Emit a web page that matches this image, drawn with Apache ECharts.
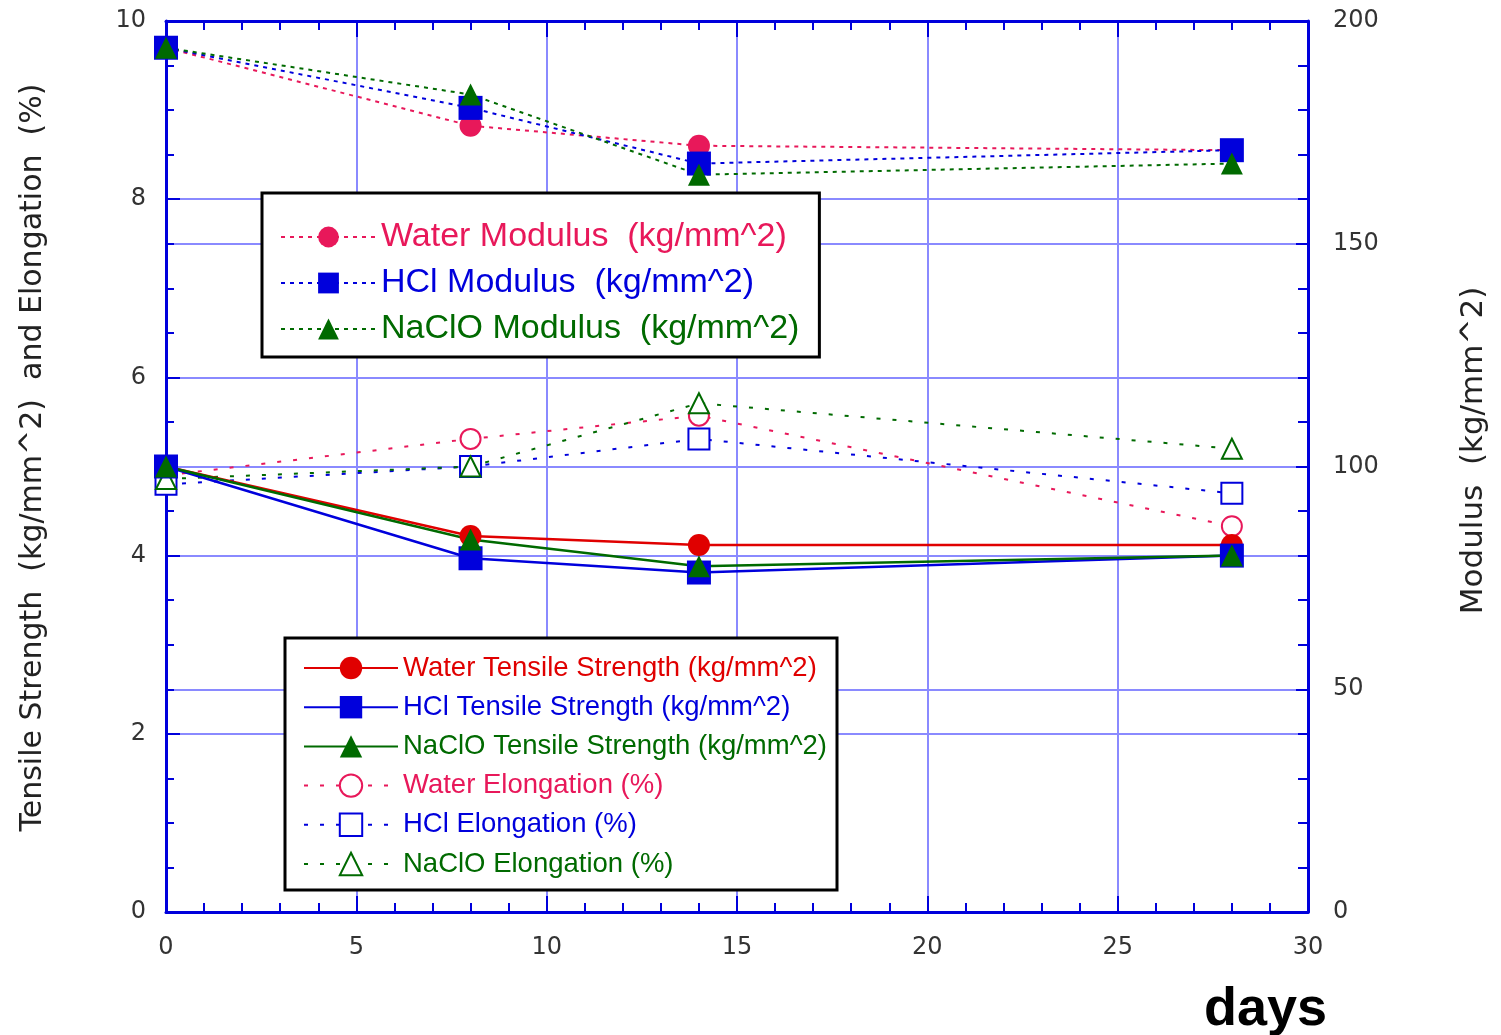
<!DOCTYPE html>
<html><head><meta charset="utf-8">
<script src="https://cdn.jsdelivr.net/npm/echarts@6/dist/echarts.min.js"></script>
<style>html,body{margin:0;padding:0;background:#fff}#c{width:1501px;height:1035px}</style>
</head><body><div id="c"></div><script>
// ---- data ----
const days = [0, 8, 14, 28];
const waterModulus = [194, 176.5, 172, 171];
const hclModulus = [194, 180.5, 168, 171];
const nacloModulus = [194, 183.5, 165.5, 168];
const waterTensile = [5.0, 4.22, 4.12, 4.12];
const hclTensile = [5.0, 3.97, 3.81, 4.0];
const nacloTensile = [5.0, 4.18, 3.88, 4.0];
const waterElong = [4.9, 5.31, 5.57, 4.33];
const hclElong = [4.8, 5.0, 5.31, 4.7];
const nacloElong = [4.86, 5.0, 5.71, 5.2];
const leftTicks = [0, 2, 4, 6, 8, 10];
const rightTicks = [0, 50, 100, 150, 200];
const xTicks = [0, 5, 10, 15, 20, 25, 30];

const names1 = ['Water Modulus  (kg/mm^2)', 'HCl Modulus  (kg/mm^2)', 'NaClO Modulus  (kg/mm^2)'];
const names2 = ['Water Tensile Strength (kg/mm^2)', 'HCl Tensile Strength (kg/mm^2)', 'NaClO Tensile Strength (kg/mm^2)',
  'Water Elongation (%)', 'HCl Elongation (%)', 'NaClO Elongation (%)'];

const C = { waterM: '#e8185a', waterT: '#e00000', hcl: '#0000dc', naclo: '#006a00', grid: '#8a8aff', axis: '#0000dc' };

const pair = arr => days.map((d, i) => [d, arr[i]]);

function ser(name, arr, yIdx, color, symbol, size, ltype, lw) {
  return {
    name, type: 'line', yAxisIndex: yIdx, data: pair(arr),
    symbol, symbolSize: size,
    itemStyle: { color },
    lineStyle: { color, width: lw, type: ltype },
    emphasis: { disabled: true }, animation: false
  };
}

const dashM = [4, 5];
const dashE = [4, 12];

const series = [
  ser(names1[0], waterModulus, 1, C.waterM, 'circle', 22, dashM, 2),
  ser(names1[1], hclModulus, 1, C.hcl, 'rect', 24, dashM, 2),
  ser(names1[2], nacloModulus, 1, C.naclo, 'triangle', 22, dashM, 2),
  ser(names2[3], waterElong, 0, C.waterM, 'emptyCircle', 20, dashE, 2),
  ser(names2[4], hclElong, 0, C.hcl, 'emptyRect', 21, dashE, 2),
  ser(names2[5], nacloElong, 0, C.naclo, 'emptyTriangle', 20, dashE, 2),
  ser(names2[0], waterTensile, 0, C.waterT, 'circle', 22, 'solid', 2.5),
  ser(names2[1], hclTensile, 0, C.hcl, 'rect', 24, 'solid', 2.5),
  ser(names2[2], nacloTensile, 0, C.naclo, 'triangle', 22, 'solid', 2.5)
];
series.forEach(s => { if (s.symbol.indexOf('empty') === 0) { s.itemStyle.borderWidth = 2; } });

const colorFor = n => n.startsWith('Water') ? (n.includes('Tensile') ? C.waterT : C.waterM) : n.startsWith('HCl') ? C.hcl : C.naclo;

const axisLine = { show: true, onZero: false, lineStyle: { color: C.axis, width: 3 } };
const labelStyle = { color: '#333', fontSize: 24, fontFamily: 'DejaVu Sans' };

const option = {
  backgroundColor: '#fff',
  animation: false,
  title: { text: 'days', left: 1204, top: 983, padding: 0,
    textStyle: { fontSize: 54, fontWeight: 'bold', fontFamily: 'Liberation Sans', color: '#000' } },
  grid: { left: 166, right: 193, top: 21, bottom: 123, containLabel: false },
  xAxis: [
    { type: 'value', position: 'bottom', min: 0, max: 30, interval: 5,
      axisLine, axisTick: { show: true, inside: true, length: 16, lineStyle: { color: C.axis, width: 2 } },
      minorTick: { show: true, splitNumber: 5, length: 9, lineStyle: { color: C.axis, width: 2 } },
      splitLine: { show: true, lineStyle: { color: C.grid, width: 2 } },
      axisLabel: Object.assign({ margin: 24, formatter: v => xTicks.includes(v) ? String(v) : '' }, labelStyle) },
    { type: 'value', position: 'top', min: 0, max: 30, interval: 5,
      axisLine, axisTick: { show: true, inside: true, length: 16, lineStyle: { color: C.axis, width: 2 } },
      minorTick: { show: true, splitNumber: 5, length: 9, lineStyle: { color: C.axis, width: 2 } },
      splitLine: { show: false }, axisLabel: { show: false } }
  ],
  yAxis: [
    { type: 'value', position: 'left', min: 0, max: 10, interval: 2,
      name: 'Tensile Strength  (kg/mm^2)  and Elongation  (%)', nameLocation: 'middle', nameRotate: 90, nameGap: 118,
      nameTextStyle: { fontSize: 30, fontFamily: 'DejaVu Sans', color: '#222', padding: [0, 0, 0, 18] },
      axisLine, axisTick: { show: true, inside: true, length: 14, lineStyle: { color: C.axis, width: 2 } },
      minorTick: { show: true, splitNumber: 4, length: 8, lineStyle: { color: C.axis, width: 2 } },
      splitLine: { show: true, lineStyle: { color: C.grid, width: 2 } },
      axisLabel: Object.assign({ margin: 20, formatter: v => leftTicks.includes(v) ? String(v) : '' }, labelStyle) },
    { type: 'value', position: 'right', min: 0, max: 200, interval: 50,
      name: 'Modulus  (kg/mm^2)', nameLocation: 'middle', nameRotate: 90, nameGap: 150,
      nameTextStyle: { fontSize: 31, fontFamily: 'DejaVu Sans', color: '#222', padding: [0, 0, 0, 32] },
      axisLine, axisTick: { show: true, inside: true, length: 12, lineStyle: { color: C.axis, width: 2 } },
      minorTick: { show: true, splitNumber: 5, length: 10, lineStyle: { color: C.axis, width: 2 } },
      splitLine: { show: true, lineStyle: { color: C.grid, width: 2 } },
      axisLabel: Object.assign({ margin: 25, padding: [8, 0, 0, 0], formatter: v => rightTicks.includes(v) ? String(v) : '' }, labelStyle) }
  ],
  legend: [
    { data: names1.map(n => ({ name: n, textStyle: { color: colorFor(n) } })),
      orient: 'vertical', left: 262, top: 193, itemWidth: 95, itemHeight: 26, itemGap: 12,
      padding: [27, 20, 11, 18], borderColor: '#000', borderWidth: 3, backgroundColor: '#fff',
      textStyle: { fontSize: 34, fontFamily: 'Liberation Sans' }, selectedMode: false },
    { data: names2.map(n => ({ name: n, textStyle: { color: colorFor(n) } })),
      orient: 'vertical', left: 285, top: 638, itemWidth: 94, itemHeight: 28, itemGap: 11.2,
      padding: [16, 10, 12, 18], borderColor: '#000', borderWidth: 3, backgroundColor: '#fff',
      textStyle: { fontSize: 27.5, fontFamily: 'Liberation Sans' }, selectedMode: false }
  ],
  series
};

const chart = echarts.init(document.getElementById('c'), null, { renderer: 'canvas' });
chart.setOption(option);
</script></body></html>
